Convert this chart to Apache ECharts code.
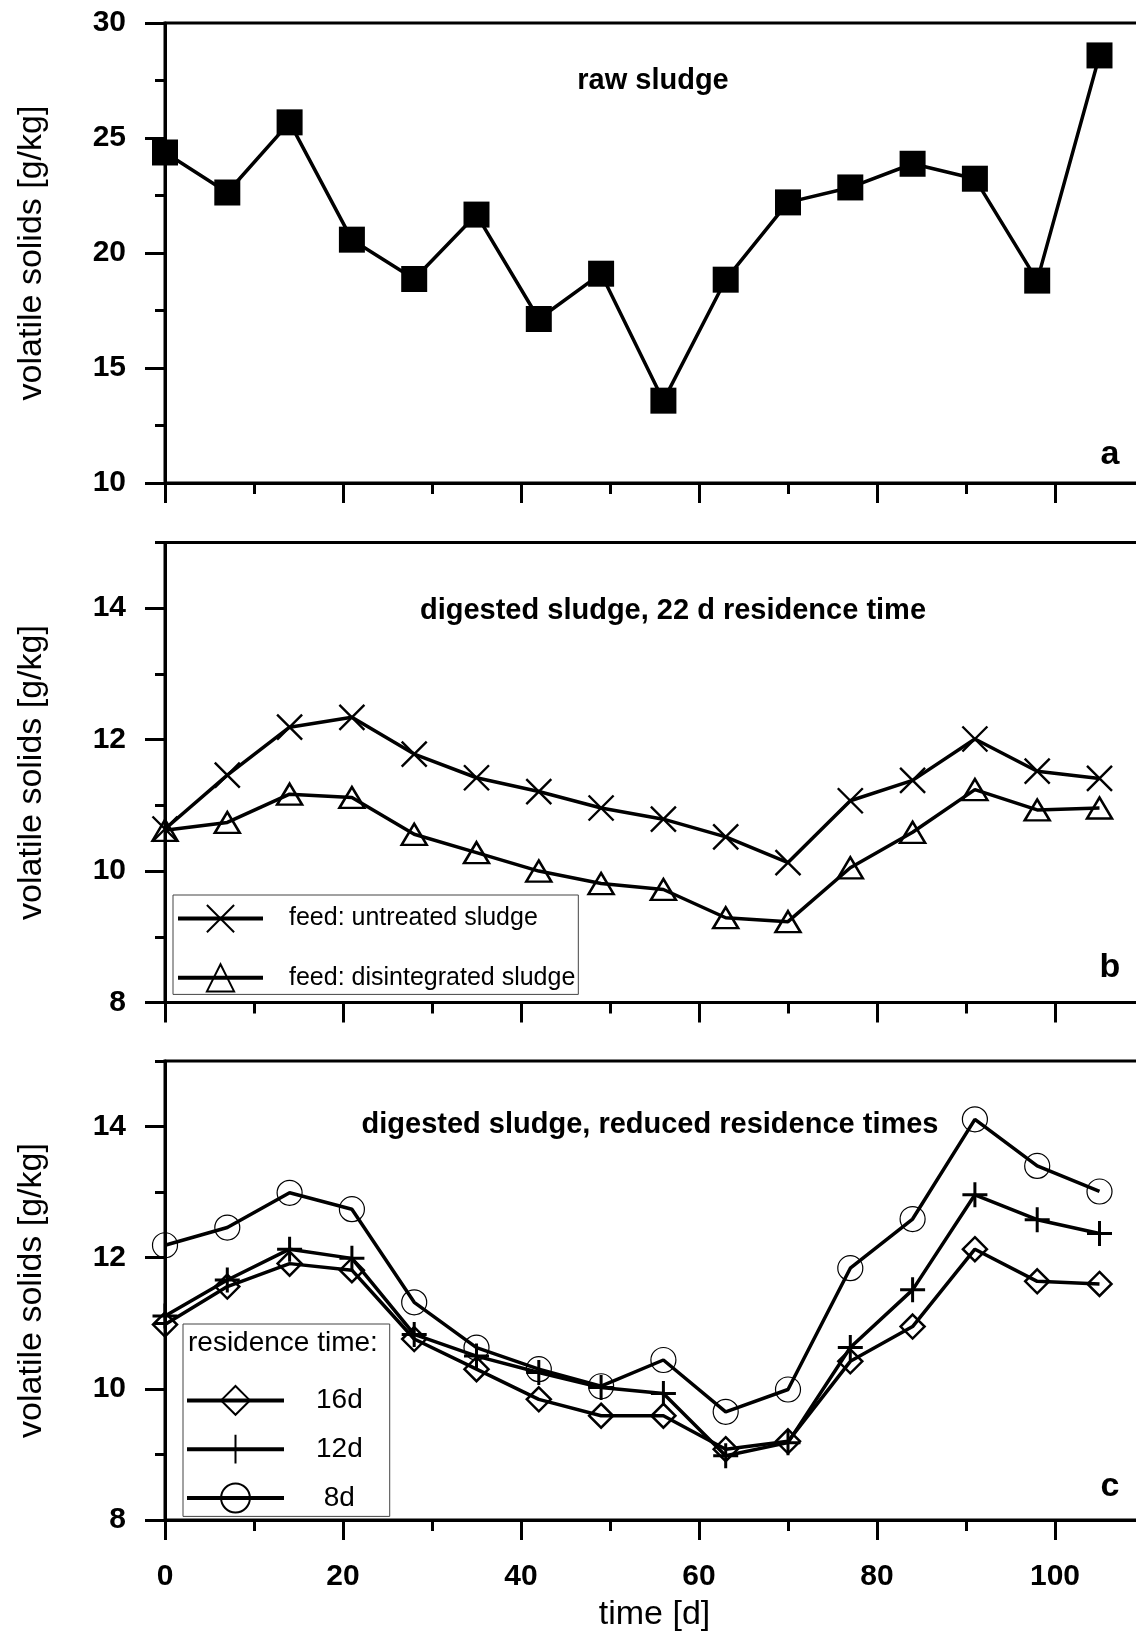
<!DOCTYPE html>
<html>
<head>
<meta charset="utf-8">
<script src="https://cdn.jsdelivr.net/npm/echarts@6/dist/echarts.min.js"></script>
<style>
  html, body { margin: 0; padding: 0; background: #fff; overflow: hidden; }
  /* the plot frame runs past the right edge of the page, so the div is wider than the window */
  #chart { width: 1150px; height: 1633px; }
</style>
</head>
<body>
<div id="chart"></div>
<script>
// sampling days (weekly)
const days = [0, 7, 14, 21, 28, 35, 42, 49, 56, 63, 70, 77, 84, 91, 98, 105]

// panel a: raw sludge
const rawSludge = [24.37, 22.63, 25.68, 20.58, 18.87, 21.67, 17.13, 19.1, 13.58, 18.84, 22.2, 22.85, 23.88, 23.23, 18.8, 28.59]

// panel b: 22 d residence time
const untreated = [10.64, 11.46, 12.19, 12.34, 11.78, 11.42, 11.21, 10.96, 10.79, 10.52, 10.13, 11.07, 11.38, 12.01, 11.52, 11.41]
const disintegrated = [10.62, 10.74, 11.17, 11.12, 10.56, 10.28, 10.0, 9.81, 9.72, 9.29, 9.23, 10.05, 10.59, 11.24, 10.93, 10.96]

// panel c: reduced residence times
const rt16 = [10.98, 11.56, 11.91, 11.81, 10.76, 10.30, 9.84, 9.59, 9.59, 9.08, 9.2, 10.42, 10.95, 12.13, 11.64, 11.60]
const rt12 = [11.11, 11.66, 12.13, 11.99, 10.83, 10.50, 10.25, 10.02, 9.93, 8.98, 9.18, 10.63, 11.51, 12.96, 12.58, 12.37]
const rt8 = [12.19, 12.46, 12.99, 12.74, 11.32, 10.63, 10.30, 10.04, 10.44, 9.65, 9.99, 11.84, 12.59, 14.11, 13.40, 13.01]

// ticks
const xMajor = [0, 20, 40, 60, 80, 100]
const xMinor = [10, 30, 50, 70, 90]
const yMajorA = [10, 15, 20, 25, 30]
const yMinorA = [12.5, 17.5, 22.5, 27.5]
const yMajorBC = [8, 10, 12, 14]
const yMinorBC = [9, 11, 13, 15]

const FONT = "'Liberation Sans', Arial, sans-serif"
const black = '#000'

const pairs = vals => days.map((d, i) => [d, vals[i]])

// x = 110 lands at 1144px, just outside the visible 1136px
const grids = [
  { left: 165, right: 6, top: 23, height: 460 },
  { left: 165, right: 6, top: 542.5, height: 460 },
  { left: 165, right: 6, top: 1061, height: 460 }
].map(g => ({ ...g, show: true, borderColor: black, borderWidth: 3, backgroundColor: 'transparent' }))

const makeX = (gridIndex, withLabels) => [
  {
    type: 'value', gridIndex, min: 0, max: 110, position: 'bottom',
    axisLine: { show: true, onZero: false, lineStyle: { color: black, width: 3 } },
    axisTick: { show: true, length: 20, customValues: xMajor, lineStyle: { color: black, width: 3 } },
    axisLabel: { show: withLabels, customValues: xMajor, margin: 42, color: black, fontSize: 30, fontWeight: 'bold', fontFamily: FONT },
    splitLine: { show: false },
    name: withLabels ? 'time [d]' : '',
    nameLocation: 'middle', nameGap: 78,
    nameTextStyle: { color: black, fontSize: 34, fontFamily: FONT }
  },
  {
    type: 'value', gridIndex, min: 0, max: 110, position: 'bottom',
    axisLine: { show: false, onZero: false },
    axisTick: { show: true, length: 11, customValues: xMinor, lineStyle: { color: black, width: 3 } },
    axisLabel: { show: false },
    splitLine: { show: false }
  }
]

const makeY = (gridIndex, min, max, majors, minors) => [
  {
    type: 'value', gridIndex, min, max, position: 'left',
    axisLine: { show: true, onZero: false, lineStyle: { color: black, width: 3 } },
    axisTick: { show: true, length: 20, customValues: majors, lineStyle: { color: black, width: 3 } },
    axisLabel: { customValues: majors, margin: 39, color: black, fontSize: 30, fontWeight: 'bold', fontFamily: FONT },
    splitLine: { show: false },
    name: 'volatile solids [g/kg]', nameLocation: 'middle', nameGap: 116,
    nameTextStyle: { color: black, fontSize: 34, fontFamily: FONT }
  },
  {
    type: 'value', gridIndex, min, max, position: 'left',
    axisLine: { show: false, onZero: false },
    axisTick: { show: true, length: 10, customValues: minors, lineStyle: { color: black, width: 3 } },
    axisLabel: { show: false },
    splitLine: { show: false }
  }
]

const lineSeries = (name, vals, axis, symbol, symbolSize, itemStyle) => ({
  name, type: 'line', data: pairs(vals),
  xAxisIndex: axis, yAxisIndex: axis,
  symbol, symbolSize, clip: false,
  lineStyle: { color: black, width: 3.5 },
  itemStyle
})

const hollow = w => ({ color: 'rgba(0,0,0,0)', borderColor: black, borderWidth: w })

const X_PATH = 'path://M0,0L24,24M24,0L0,24'
const PLUS_PATH = 'path://M12,0L12,24M0,12L24,12'

const txt = (text, x, y, font, align) => ({
  type: 'text', x, y, z: 100,
  style: { text, font, fill: black, textAlign: align, align, textVerticalAlign: 'middle', verticalAlign: 'middle' }
})

const chart = echarts.init(document.getElementById('chart'), null, { renderer: 'canvas' })

chart.setOption({
  animation: false,
  backgroundColor: '#fff',
  grid: grids,
  xAxis: [...makeX(0, false), ...makeX(1, false), ...makeX(2, true)],
  yAxis: [
    ...makeY(0, 10, 30, yMajorA, yMinorA),
    ...makeY(1, 8, 15, yMajorBC, yMinorBC),
    ...makeY(2, 8, 15, yMajorBC, yMinorBC)
  ],
  legend: [
    {
      data: ['feed: untreated sludge', 'feed: disintegrated sludge'],
      orient: 'vertical', left: 173, top: 895,
      padding: [9, 3, 2, 3],
      itemWidth: 85, itemHeight: 34, itemGap: 30,
      selectedMode: false,
      backgroundColor: '#fff', borderColor: '#444', borderWidth: 1,
      lineStyle: { width: 4 },
      textStyle: { color: black, fontSize: 25, fontFamily: FONT, padding: [0, 0, 0, 21] }
    },
    {
      data: ['16d', '12d', ' 8d'],
      orient: 'vertical', left: 183, top: 1324,
      padding: [61, 27, 3, 2],
      itemWidth: 97, itemHeight: 36, itemGap: 18,
      selectedMode: false,
      backgroundColor: '#fff', borderColor: '#444', borderWidth: 1,
      lineStyle: { width: 4 },
      textStyle: { color: black, fontSize: 28, fontFamily: FONT, padding: [0, 0, 0, 27] }
    }
  ],
  graphic: [
    txt('raw sludge', 653, 81, 'bold 29px ' + FONT, 'center'),
    txt('digested sludge, 22 d residence time', 673, 611, 'bold 29px ' + FONT, 'center'),
    txt('digested sludge, reduced residence times', 650, 1125, 'bold 29px ' + FONT, 'center'),
    txt('a', 1110, 455, 'bold 34px ' + FONT, 'center'),
    txt('b', 1110, 968, 'bold 34px ' + FONT, 'center'),
    txt('c', 1110, 1487, 'bold 34px ' + FONT, 'center'),
    // header inside the panel c legend box
    txt('residence time:', 188, 1343, '28px ' + FONT, 'left')
  ],
  series: [
    lineSeries('raw sludge', rawSludge, 0, 'rect', 26, { color: black }),
    lineSeries('feed: untreated sludge', untreated, 2, X_PATH, 25, hollow(2.4)),
    lineSeries('feed: disintegrated sludge', disintegrated, 2, 'triangle', [25, 21], hollow(2.5)),
    lineSeries('16d', rt16, 4, 'diamond', 24, hollow(2.5)),
    lineSeries('12d', rt12, 4, PLUS_PATH, 25, hollow(3)),
    lineSeries(' 8d', rt8, 4, 'circle', 25, hollow(1.2))
  ]
})
</script>
</body>
</html>
